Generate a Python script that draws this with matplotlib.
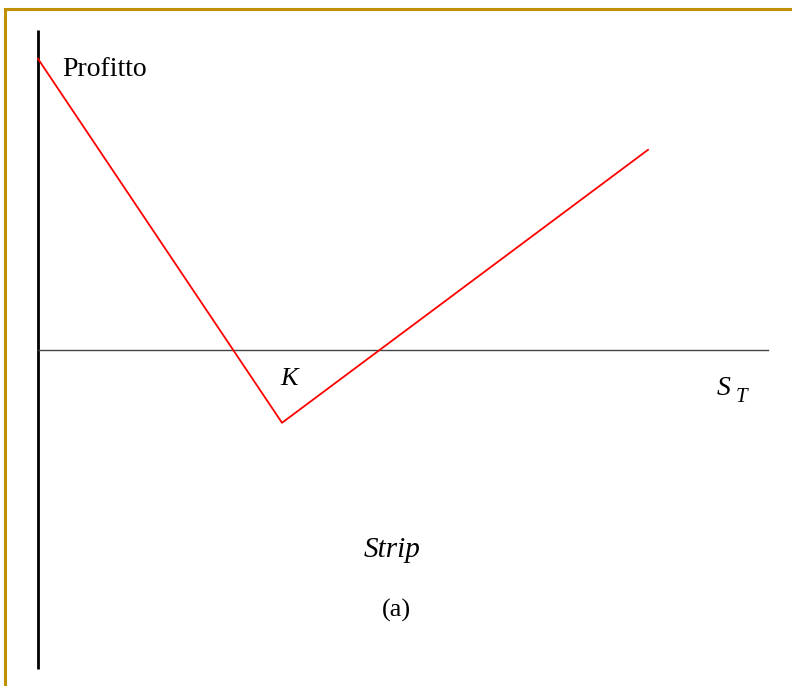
import matplotlib
matplotlib.use("Agg")
import matplotlib.pyplot as plt
from matplotlib.patches import Rectangle

# strip payoff: long 1 call + 2 puts at strike K
strike = 100
stock_price = [0, 100, 250]
profit = [160, -40, 110]

# pixel scale of the original drawing
px_per_s = 2.44
px_per_p = 1.82
W, H = 792, 686
x0_px, y0_px = 38, 350

fig = plt.figure(figsize=(W / 100, H / 100), dpi=100)
ax = fig.add_axes([0, 0, 1, 1])
ax.set_xlim(-x0_px / px_per_s, (W - x0_px) / px_per_s)
ax.set_ylim(-(H - y0_px) / px_per_p, y0_px / px_per_p)
ax.axis("off")

# axes
ax.plot([0, 0], [(y0_px - 30) / px_per_p, (y0_px - 669) / px_per_p],
        color="black", lw=2.0, solid_capstyle="butt")
ax.plot([0, (768 - x0_px) / px_per_s], [0, 0], color="#444444", lw=1.0)

# payoff
ax.plot(stock_price, profit, color="red", lw=1.3)

serif = "Liberation Serif"
ax.text(10, 154, "Profitto", family=serif, fontsize=20, ha="left", va="center")
ax.text(strike + 3, -16, "K", family=serif, style="italic", fontsize=19,
        ha="center", va="center")
ax.text(278, -21, "S", family=serif, style="italic", fontsize=20,
        ha="left", va="center")
ax.text(286, -26, "T", family=serif, style="italic", fontsize=15,
        ha="left", va="center")
ax.text(145, -110, "Strip", family=serif, style="italic", fontsize=21,
        ha="center", va="center")
ax.text(147, -143, "(a)", family=serif, fontsize=19, ha="center", va="center")

# gold frame (only top and left edges visible)
fig.patches.append(Rectangle((5 / W, -0.2), 1.5, 1.2 - 9 / H,
                             transform=fig.transFigure, fill=False,
                             edgecolor="#C09000", lw=2.2))

fig.savefig("out.png", dpi=100)
